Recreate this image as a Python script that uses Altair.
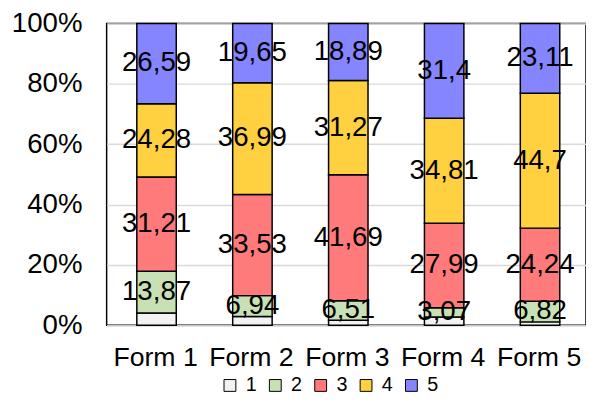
import altair as alt
import pandas as pd

forms = ["Form 1", "Form 2", "Form 3", "Form 4", "Form 5"]
cats = ["1", "2", "3", "4", "5"]
s1 = [4.05, 2.89, 1.64, 2.73, 1.13]
s2 = [13.87, 6.94, 6.51, 3.07, 6.82]
s3 = [31.21, 33.53, 41.69, 27.99, 24.24]
s4 = [24.28, 36.99, 31.27, 34.81, 44.7]
s5 = [26.59, 19.65, 18.89, 31.4, 23.11]
series = [s1, s2, s3, s4, s5]
show_label = [False, True, True, True, True]
colors = ["#f2f2f2", "#c8e1b4", "#ff7a7a", "#ffd040", "#8585ff"]

rows = []
for ci, (c, vals) in enumerate(zip(cats, series)):
    for f, v in zip(forms, vals):
        lab = f"{v:g}".replace(".", ",") if show_label[ci] else ""
        rows.append({"form": f, "cat": c, "ord": ci, "value": v, "label": lab})
df = pd.DataFrame(rows)

FONT = "Liberation Sans"

base = alt.Chart(df).transform_stack(
    stack="value",
    groupby=["form"],
    sort=[alt.SortField("ord", order="ascending")],
    as_=["y0", "y1"],
    offset="normalize",
).transform_calculate(mid="(datum.y0 + datum.y1) / 2")

xscale = alt.Scale(paddingInner=0, paddingOuter=0)

x = alt.X("form:N", sort=forms, title=None, scale=xscale,
          axis=alt.Axis(labelAngle=0, ticks=False, domainColor="#bfbfbf",
                        labelFontSize=27, labelFont=FONT, labelColor="black",
                        labelPadding=20, labelOffset=1))

bars = base.mark_bar(size=40, stroke="black", strokeWidth=1.5, xOffset=2).encode(
    x=x,
    y=alt.Y("y0:Q", scale=alt.Scale(domain=[0, 1]), title=None,
            axis=alt.Axis(format=".0%", values=[0, 0.2, 0.4, 0.6, 0.8, 1.0],
                          ticks=False, domain=False, gridColor="#d9d9d9",
                          gridWidth=1.5,
                          labelFontSize=28, labelFont=FONT, labelColor="black",
                          labelPadding=25)),
    y2="y1:Q",
    color=alt.Color("cat:N", scale=alt.Scale(domain=cats, range=colors),
                    legend=alt.Legend(title=None, orient="none", direction="horizontal",
                                      legendX=115, legendY=357,
                                      symbolType="square", symbolSize=144,
                                      symbolStrokeColor="black", symbolStrokeWidth=1,
                                      labelFontSize=20, labelFont=FONT, labelColor="black",
                                      labelOffset=6, columnPadding=8)),
)

texts = base.mark_text(fontSize=28, font=FONT, color="black", xOffset=2).encode(
    x=alt.X("form:N", sort=forms, scale=xscale),
    y=alt.Y("mid:Q"),
    text="label:N",
)

chart = alt.layer(bars, texts).properties(
    width=486, height=306,
    autosize=alt.AutoSizeParams(type="none"),
    padding={"left": 100, "top": 13, "right": 0, "bottom": 68},
).configure_view(stroke="black", strokeWidth=1.5)

chart.save("out.html", embed_options={"renderer": "svg", "actions": False})
